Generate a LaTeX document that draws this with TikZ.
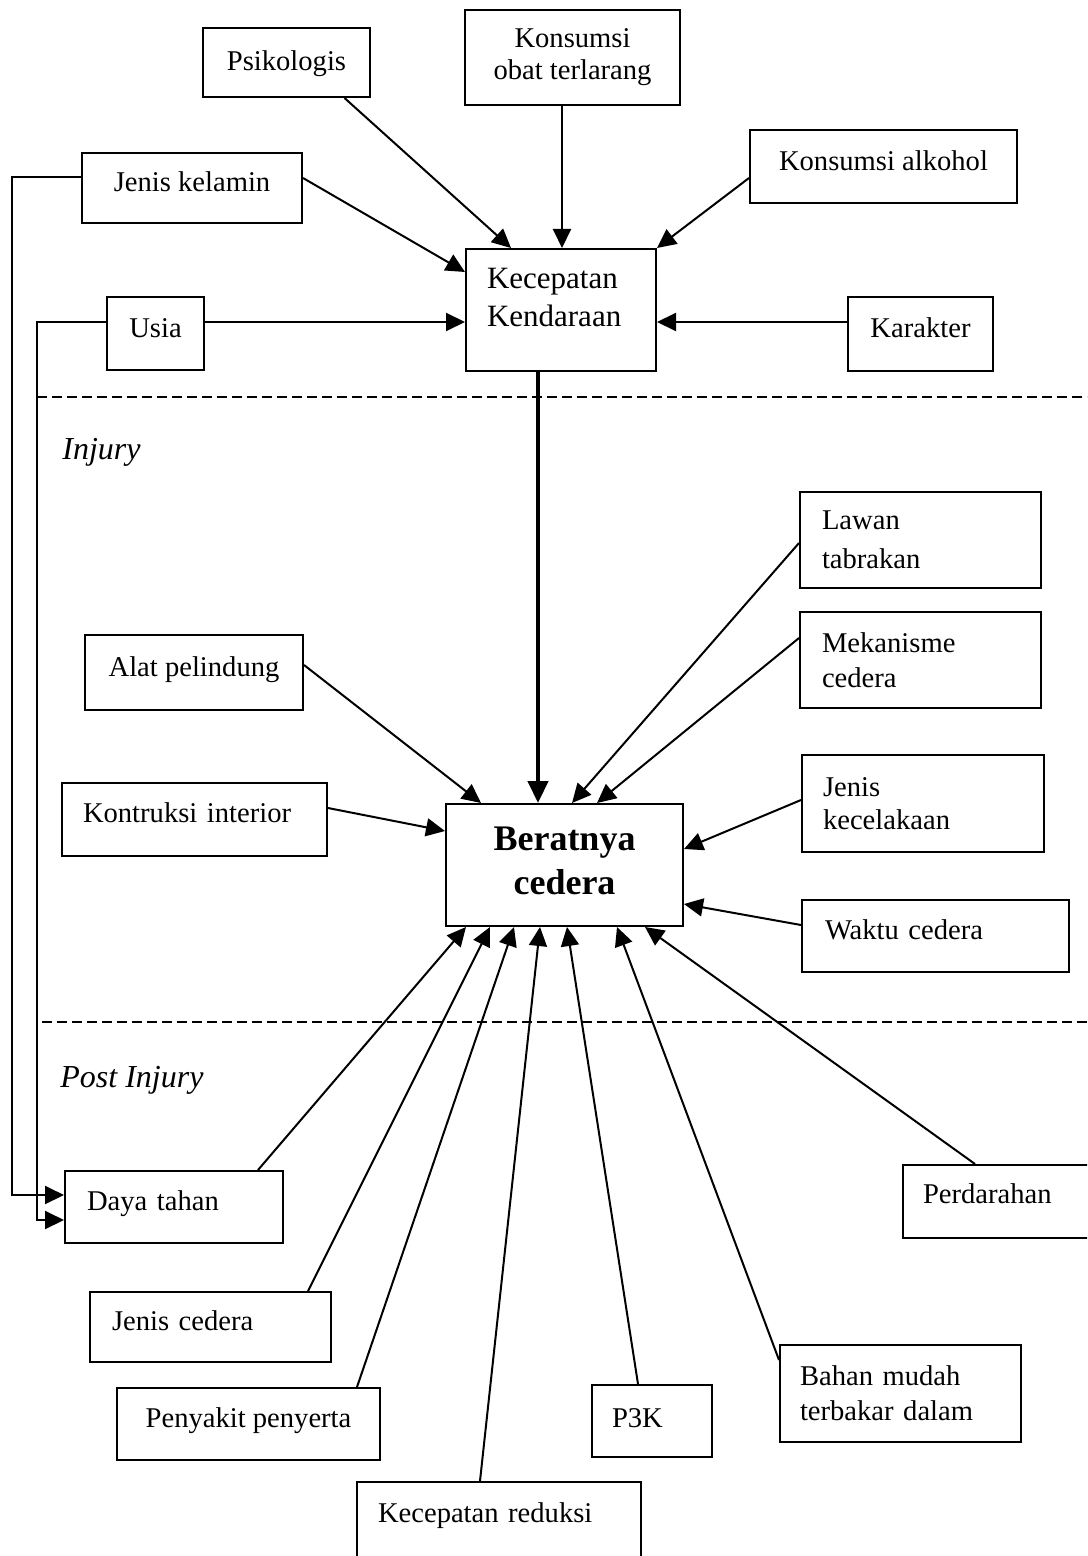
\documentclass[tikz,border=0pt]{standalone}
\usepackage{fontspec}
\setmainfont{Liberation Serif}
\usetikzlibrary{arrows.meta,calc}
\tikzset{
  box/.style={draw, line width=1pt, inner ysep=0pt, font=\fontsize{14.3}{17.5}\selectfont},
  cbox/.style={box, align=center, inner xsep=0pt},
  lbox/.style={box, align=left},
  sl/.style={text height=7pt, text depth=3.2pt},
  arr/.style={line width=1pt, -{Triangle[length=9.5pt,width=9pt]}},
  thickarr/.style={line width=2.2pt, -{Triangle[length=11pt,width=10pt]}},
  dashline/.style={line width=1pt, dash pattern=on 5pt off 2.5pt},
  lab/.style={font=\fontsize{16}{19}\selectfont\itshape, inner sep=0pt, anchor=west}
}
\begin{document}
\begin{tikzpicture}[x=0.5pt,y=-0.5pt]
\clip (0,0) rectangle (1087,1556);
\fill[white] (0,0) rectangle (1087,1556);
% top boxes
\node[cbox, minimum width=83.5pt, minimum height=34.5pt, text height=9.5pt, text depth=1pt] (psi) at (286.5,62.5) {Psikologis};
\node[cbox, minimum width=107.5pt, minimum height=47.5pt, font=\fontsize{14.3}{16}\selectfont] (obat) at (572.5,57.5) {Konsumsi\\obat terlarang};
\node[cbox, sl, minimum width=133.5pt, minimum height=36.5pt] (alk) at (883.5,166.5) {Konsumsi alkohol};
\node[cbox, sl, minimum width=110pt, minimum height=35pt] (jk) at (192,188) {Jenis kelamin};
\node[lbox, text width=74pt, inner xsep=10.5pt, minimum height=61pt, text height=10pt, text depth=31.5pt, font=\fontsize{15.5}{19}\selectfont] (kk) at (561,310) {Kecepatan\\Kendaraan};
\node[cbox, sl, minimum width=48.5pt, minimum height=36.5pt] (usia) at (155.5,333.5) {Usia};
\node[cbox, sl, minimum width=72.5pt, minimum height=37pt] (kar) at (920.5,334) {Karakter};
% injury boxes
\node[lbox, text width=98.5pt, inner xsep=11pt, minimum height=48pt, font=\fontsize{14.3}{19.5}\selectfont] (lawan) at (920.5,540) {Lawan\\tabrakan};
\node[lbox, text width=98.5pt, inner xsep=11pt, minimum height=48pt] (mek) at (920.5,660) {Mekanisme\\cedera};
\node[cbox, sl, minimum width=109pt, minimum height=37.5pt] (alat) at (194,672.5) {Alat pelindung};
\node[lbox, text width=111.5pt, inner xsep=10.5pt, minimum height=36.5pt, text height=6.5pt, text depth=4pt] (kon) at (194.5,819.5) {Kontruksi interior};
\node[cbox, minimum width=118.5pt, minimum height=61pt, text height=34pt, text depth=4.7pt, font=\fontsize{18}{22}\selectfont\bfseries] (ber) at (564.5,865) {Beratnya\\cedera};
\node[lbox, text width=100pt, inner xsep=10.5pt, minimum height=48.5pt, font=\fontsize{14.3}{16.5}\selectfont] (jkec) at (923,803.5) {Jenis\\kecelakaan};
\node[lbox, sl, text width=110.5pt, inner xsep=11.5pt, minimum height=36pt] (waktu) at (935.5,936) {Waktu cedera};
% post injury boxes
\node[lbox, sl, text width=87pt, inner xsep=11pt, minimum height=36pt] (daya) at (174,1207) {Daya tahan};
\node[lbox, text width=73.5pt, inner xsep=10pt, minimum height=36.5pt, text height=6pt, text depth=4.4pt] (perd) at (996.5,1201.5) {Perdarahan};
\node[lbox, sl, text width=98.5pt, inner xsep=11pt, minimum height=35pt] (jced) at (210.5,1327) {Jenis cedera};
\node[cbox, sl, minimum width=131.5pt, minimum height=36pt] (peny) at (248.5,1424) {Penyakit penyerta};
\node[lbox, text width=40pt, inner xsep=10pt, minimum height=36pt, text height=8.2pt, text depth=1.8pt] (p3k) at (652,1421) {P3K};
\node[lbox, text width=100.5pt, inner xsep=10pt, minimum height=48.5pt] (bahan) at (900.5,1393.5) {Bahan mudah\\terbakar dalam};
\node[lbox, text width=121pt, inner xsep=10.5pt, minimum height=39pt, text height=6.5pt, text depth=4.7pt] (kred) at (499,1521) {Kecepatan reduksi};
% section labels and dashed lines
\draw[dashline] (37,397) -- (1087,397);
\draw[dashline] (42,1022) -- (1087,1022);
\node[lab] (inj) at (62,452) {Injury};
\node[lab] (pinj) at (60,1080) {Post Injury};
% arrows into Kecepatan Kendaraan
\draw[arr] ([xshift=29pt]psi.south) -- ([xshift=23pt]kk.north west);
\draw[arr] ([xshift=-5.25pt]obat.south) -- ([xshift=0.5pt]kk.north);
\draw[arr] ([yshift=-5.75pt]alk.west) -- (kk.north east);
\draw[arr] ([yshift=5pt]jk.east) -- ([yshift=19pt]kk.west);
\draw[arr] ([yshift=5.75pt]usia.east) -- ([yshift=-6pt]kk.west);
\draw[arr] ([yshift=6pt]kar.west) -- ([yshift=-6pt]kk.east);
\draw[thickarr] ([xshift=-11.5pt]kk.south) -- ([xshift=-13.25pt]ber.north);
% arrows into Beratnya cedera
\draw[arr] ([yshift=3.75pt]alat.east) -- ([xshift=18pt]ber.north west);
\draw[arr] ([yshift=-1.5pt]lawan.west) -- ([xshift=3.75pt]ber.north);
\draw[arr] ([yshift=11pt]mek.west) -- ([xshift=16.25pt]ber.north);
\draw[arr] ([yshift=5.75pt]kon.east) -- ([yshift=17pt]ber.west);
\draw[arr] ([yshift=1.75pt]jkec.west) -- ([yshift=8pt]ber.east);
\draw[arr] ([yshift=5.5pt]waktu.west) -- ([yshift=-19.5pt]ber.east);
\draw[arr] ([xshift=42pt]daya.north) -- ([xshift=-49.25pt]ber.south);
\draw[arr] ([xshift=48.75pt]jced.north) -- ([xshift=-37.25pt]ber.south);
\draw[arr] ([xshift=54.25pt]peny.north) -- ([xshift=-25.25pt]ber.south);
\draw[arr] ([xshift=-9.5pt]kred.north) -- ([xshift=-12.25pt]ber.south);
\draw[arr] ([xshift=-7pt]p3k.north) -- ([xshift=1.25pt]ber.south);
\draw[arr] ([yshift=16.75pt]bahan.west) -- ([xshift=26.25pt]ber.south);
\draw[arr] ([xshift=-10.75pt]perd.north) -- ([xshift=40.25pt]ber.south);
% feedback lines to Daya tahan
\coordinate (fbA) at (12,700);
\coordinate (fbB) at (37,700);
\draw[arr] ([yshift=5.5pt]jk.west) -| (fbA) |- ([yshift=6pt]daya.west);
\draw[arr] ([yshift=5.75pt]usia.west) -| (fbB) |- ([yshift=-6.5pt]daya.west);
\end{tikzpicture}
\end{document}
